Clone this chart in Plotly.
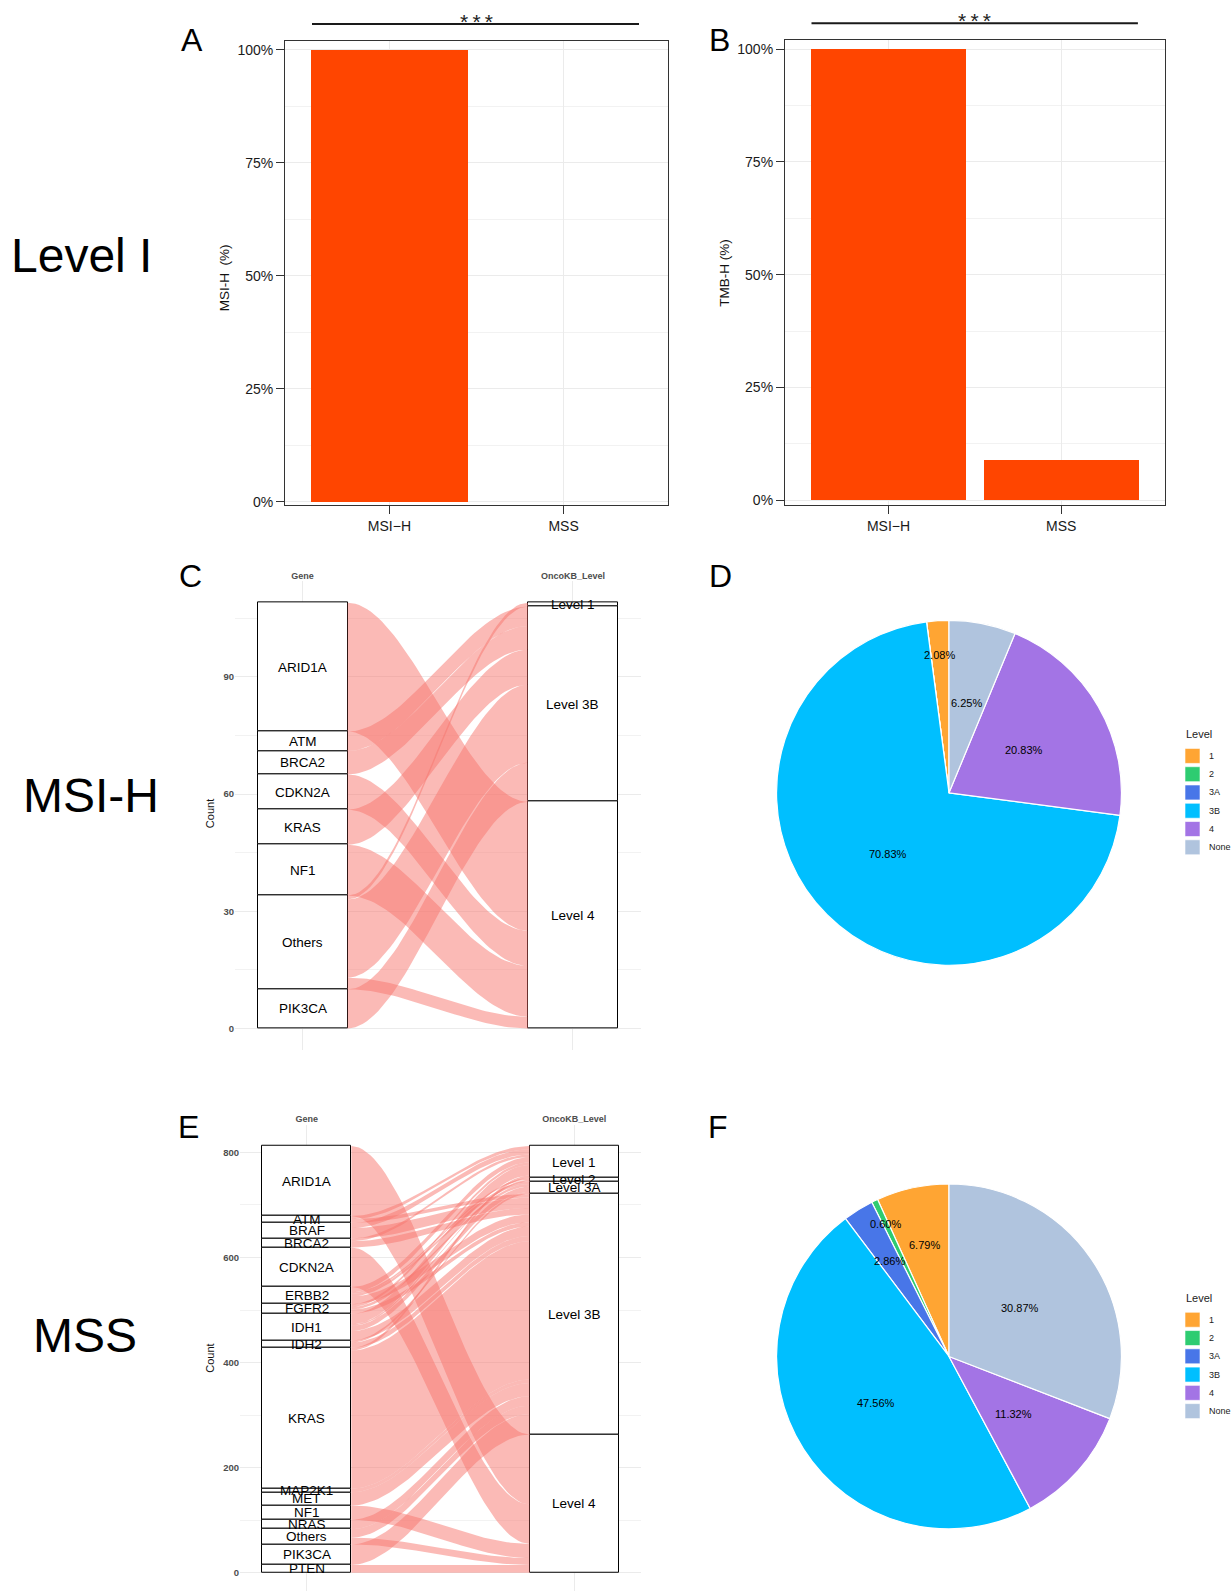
import math
import plotly.graph_objects as go

W, H = 1231, 1596
FONT = "Liberation Sans, Arial, Helvetica, sans-serif"

# ---------------- data ----------------
groups = ["MSI\u2212H", "MSS"]
msi_h_pct = [100.0, 0.0]
tmb_h_pct = [100.0, 8.75]
pct_ticks = [0, 25, 50, 75, 100]

# Panel C (MSI-H) alluvial: gene -> OncoKB level
c_genes = ["ARID1A", "ATM", "BRCA2", "CDKN2A", "KRAS", "NF1", "Others", "PIK3CA"]
c_levels = ["Level 1", "Level 3B", "Level 4"]
c_flow_gene = ["ARID1A", "ATM", "BRCA2", "CDKN2A", "KRAS", "NF1",
               "Others", "Others", "Others", "PIK3CA"]
c_flow_level = ["Level 4", "Level 3B", "Level 3B", "Level 4", "Level 3B", "Level 4",
                "Level 1", "Level 3B", "Level 4", "Level 3B"]
c_flow_count = [33, 5, 6, 9, 9, 13, 1, 20, 3, 10]
c_ticks = [0, 30, 60, 90]

# Panel E (MSS) alluvial
e_genes = ["ARID1A", "ATM", "BRAF", "BRCA2", "CDKN2A", "ERBB2", "FGFR2", "IDH1", "IDH2",
           "KRAS", "MAP2K1", "MET", "NF1", "NRAS", "Others", "PIK3CA", "PTEN"]
e_levels = ["Level 1", "Level 2", "Level 3A", "Level 3B", "Level 4"]
e_flow_gene = ["ARID1A",
               "ATM", "ATM",
               "BRAF", "BRAF",
               "BRCA2", "BRCA2",
               "CDKN2A",
               "ERBB2", "ERBB2", "ERBB2", "ERBB2",
               "FGFR2", "FGFR2", "FGFR2",
               "IDH1", "IDH1", "IDH1", "IDH1",
               "IDH2", "IDH2",
               "KRAS", "KRAS",
               "MAP2K1", "MET", "NF1", "NRAS",
               "Others", "Others",
               "PIK3CA", "PTEN"]
e_flow_level = ["Level 4",
                "Level 1", "Level 3B",
                "Level 1", "Level 3B",
                "Level 1", "Level 3B",
                "Level 4",
                "Level 1", "Level 2", "Level 3A", "Level 3B",
                "Level 1", "Level 3A", "Level 3B",
                "Level 1", "Level 2", "Level 3A", "Level 3B",
                "Level 3A", "Level 3B",
                "Level 1", "Level 3B",
                "Level 3B", "Level 3B", "Level 4", "Level 3B",
                "Level 3B", "Level 4",
                "Level 3B", "Level 4"]
e_flow_count = [133,
                6, 7,
                10, 20,
                5, 12,
                75,
                10, 3, 5, 15,
                5, 5, 8,
                20, 3, 10, 18,
                4, 10,
                5, 263,
                7, 25, 27, 18,
                16, 13,
                39, 15]
e_ticks = [0, 200, 400, 600, 800]

# Pies (patients by highest level)
pie_labels = ["1", "2", "3A", "3B", "4", "None"]
d_counts = [1, 0, 0, 34, 10, 3]
f_counts = [114, 10, 48, 798, 190, 518]

# ---------------- styles ----------------
BAR_COLOR = "#FF4500"
FLOW_COLOR = "rgba(248,118,109,0.5)"
PIE_COLORS = ["#FFA533", "#2ECC71", "#4876E8", "#00BFFF", "#A374E5", "#B0C4DE"]
GRID = "#EBEBEB"
MINOR = "#F2F2F2"


def fx(px):
    return px / W


def fy(py):
    return 1 - py / H


fig = go.Figure()
annotations = []
shapes = []


def note(text, x, y, size, color="#111", angle=0, xanchor="center"):
    annotations.append(dict(text=text, x=fx(x), y=fy(y), xref="paper", yref="paper", showarrow=False,
                            xanchor=xanchor, yanchor="middle", textangle=angle,
                            font=dict(size=size, color=color)))


# ---------------- Panels A & B (bars) ----------------
fig.add_trace(go.Bar(x=groups, y=msi_h_pct, width=0.9, marker=dict(color=BAR_COLOR, line=dict(width=0)),
                     xaxis="x", yaxis="y", showlegend=False, hoverinfo="skip"))
fig.add_trace(go.Bar(x=groups, y=tmb_h_pct, width=0.9, marker=dict(color=BAR_COLOR, line=dict(width=0)),
                     xaxis="x2", yaxis="y2", showlegend=False, hoverinfo="skip"))


def bar_axes(xl, xr, yt, yb, yrange, xname, yname):
    xa = dict(domain=[fx(xl), fx(xr)], anchor=yname, type="category", range=[-0.6, 1.6],
              showline=True, mirror=True, linecolor="#333333", linewidth=1,
              ticks="outside", ticklen=8, tickcolor="#333333", tickwidth=1,
              showgrid=True, gridcolor=GRID, gridwidth=1, zeroline=False,
              tickfont=dict(size=14, color="#1a1a1a"))
    ya = dict(domain=[fy(yb), fy(yt)], anchor=xname, range=yrange,
              tickvals=pct_ticks, ticktext=["%d%%" % v for v in pct_ticks],
              showline=True, mirror=True, linecolor="#333333", linewidth=1,
              ticks="outside", ticklen=8, tickcolor="#333333", tickwidth=1,
              showgrid=True, gridcolor=GRID, gridwidth=1, zeroline=False,
              minor=dict(tickvals=[12.5, 37.5, 62.5, 87.5], showgrid=True, gridcolor=MINOR, gridwidth=1, ticks=""),
              tickfont=dict(size=14, color="#1a1a1a"))
    return xa, ya


xa1, ya1 = bar_axes(285, 668, 41.3, 506.9, [-0.75, 101.9], "x", "y")
xa2, ya2 = bar_axes(784.9, 1164.8, 40.6, 506.3, [-0.99, 101.9], "x2", "y2")

# significance brackets
for (x0, x1, yl, xs, ys) in [(312, 639, 24.1, 476, 21.5), (811.5, 1137.9, 23.4, 974.7, 20.5)]:
    shapes.append(dict(type="line", xref="paper", yref="paper", x0=fx(x0), x1=fx(x1), y0=fy(yl), y1=fy(yl),
                       line=dict(color="#1a1a1a", width=2)))
    note("*\u2009*\u2009*", xs, ys, 21, "#222")

note("MSI-H\u00a0 (%)", 224, 279, 13.5, angle=-90)
note("TMB-H (%)", 724.5, 274, 13.5, angle=-90)


# ---------------- alluvial builder ----------------
def smooth(t):
    return t * t * (3 - 2 * t)


def alluvial(genes, levels, fgene, flevel, fcount, xname, yname):
    total = sum(fcount)
    gtot = {g: 0 for g in genes}
    ltot = {l: 0 for l in levels}
    for g, l, c in zip(fgene, flevel, fcount):
        gtot[g] += c
        ltot[l] += c
    gtop, cum = {}, 0
    for g in genes:
        gtop[g] = total - cum
        cum += gtot[g]
    ltop, cum = {}, 0
    for l in levels:
        ltop[l] = total - cum
        cum += ltot[l]
    idx = list(range(len(fcount)))
    left = {}
    for g in genes:
        cur = gtop[g]
        for i in sorted([i for i in idx if fgene[i] == g], key=lambda i: levels.index(flevel[i])):
            left[i] = (cur, cur - fcount[i])
            cur -= fcount[i]
    right = {}
    for l in levels:
        cur = ltop[l]
        for i in sorted([i for i in idx if flevel[i] == l], key=lambda i: genes.index(fgene[i])):
            right[i] = (cur, cur - fcount[i])
            cur -= fcount[i]
    w = 1 / 3
    x0, x1 = 1 + w / 2, 2 - w / 2
    n = 48
    for i in idx:
        (lt, lb), (rt, rb) = left[i], right[i]
        ts = [k / (n - 1) for k in range(n)]
        xs_top = [x0 + (x1 - x0) * t for t in ts]
        ys_top = [lt + (rt - lt) * smooth(t) for t in ts]
        ys_bot = [lb + (rb - lb) * smooth(t) for t in ts]
        xs = xs_top + xs_top[::-1] + [xs_top[0]]
        ys = ys_top + ys_bot[::-1] + [ys_top[0]]
        fig.add_trace(go.Scatter(x=xs, y=ys, mode="lines", fill="toself", fillcolor=FLOW_COLOR,
                                 line=dict(width=0, color="rgba(0,0,0,0)"), xaxis=xname, yaxis=yname,
                                 showlegend=False, hoverinfo="skip"))
    for xpos, names, tops, tots in [(1, genes, gtop, gtot), (2, levels, ltop, ltot)]:
        fig.add_trace(go.Bar(x=[xpos] * len(names), y=[tots[s] for s in names],
                             base=[tops[s] - tots[s] for s in names], width=w,
                             marker=dict(color="white", line=dict(color="black", width=1)),
                             xaxis=xname, yaxis=yname, showlegend=False, hoverinfo="skip"))
        for s in names:
            annotations.append(dict(text=s, x=xpos, y=tops[s] - tots[s] / 2, xref=xname, yref=yname,
                                    showarrow=False, xanchor="center", yanchor="middle",
                                    font=dict(size=13.5, color="black")))
    return total


c_total = alluvial(c_genes, c_levels, c_flow_gene, c_flow_level, c_flow_count, "x3", "y3")
e_total = alluvial(e_genes, e_levels, e_flow_gene, e_flow_level, e_flow_count, "x4", "y4")


def alluvial_axes(xl, xr, yt, yb, yrange, tickvals, xname, yname):
    step = tickvals[1] - tickvals[0]
    minorvals = [v + step / 2 for v in tickvals]
    xa = dict(domain=[fx(xl), fx(xr)], anchor=yname, range=[0.75, 2.25], tickvals=[1, 2],
              ticktext=["<b>Gene</b>", "<b>OncoKB_Level</b>"], side="top", showline=False, ticks="",
              showgrid=True, gridcolor=GRID, gridwidth=1, zeroline=False,
              tickfont=dict(size=9, color="#4D4D4D"))
    ya = dict(domain=[fy(yb), fy(yt)], anchor=xname, range=yrange, tickvals=tickvals,
              ticktext=["<b>%d</b>" % v for v in tickvals], showline=False, ticks="",
              showgrid=True, gridcolor=GRID, gridwidth=1, zeroline=False,
              minor=dict(tickvals=minorvals, showgrid=True, gridcolor=MINOR, gridwidth=1, ticks=""),
              tickfont=dict(size=9.5, color="#4D4D4D"))
    return xa, ya


# panel E pixel calibration: value 0 sits at y=1577.7 px, 0.52713 px per count
E_ZERO_PX, E_PX_PER = 1577.7, 0.52713
E_TOP_PX = 1128.3
xa3, ya3 = alluvial_axes(235, 640.5, 583.2, 1053, [-0.05 * c_total, 1.05 * c_total], c_ticks, "x3", "y3")
xa4, ya4 = alluvial_axes(240, 641, E_TOP_PX, H,
                         [(E_ZERO_PX - H) / E_PX_PER, (E_ZERO_PX - E_TOP_PX) / E_PX_PER],
                         e_ticks, "x4", "y4")

note("Count", 210, 816.7, 11, angle=-90)
note("Count", 210, 1363, 11, angle=-90)

# ---------------- Pies D & F ----------------
pies = [(d_counts, 949, 795.3, 173, 736.7, [0.8, 0.5, 0.5, 0.5, 0.5, 0.53]),
        (f_counts, 949, 1360.7, 173, 1302.3, [0.66, 0.85, 0.65, 0.5, 0.5, 0.5])]
for counts, cx, cy, r, leg_y, rf in pies:
    tot = sum(counts)
    fig.add_trace(go.Pie(labels=pie_labels, values=counts, sort=False, direction="counterclockwise",
                         rotation=-360.0 * counts[0] / tot,
                         marker=dict(colors=PIE_COLORS, line=dict(color="white", width=1.2)),
                         textinfo="none", hoverinfo="skip", showlegend=False,
                         domain=dict(x=[fx(cx - r), fx(cx + r)], y=[fy(cy + r), fy(cy - r)])))
    cum = 0
    for v, f in zip(counts, rf):
        if v > 0:
            th = math.radians((cum + v / 2) / tot * 360)
            note("%.2f%%" % (100 * v / tot), cx - f * r * math.sin(th), cy - f * r * math.cos(th), 11, "black")
        cum += v
    # legend
    note("Level", 1183.5, leg_y, 11, "#222", xanchor="left")
    for k, (lab, col) in enumerate(zip(pie_labels, PIE_COLORS)):
        yc = leg_y + 21.6 + 18.33 * k
        shapes.append(dict(type="rect", xref="paper", yref="paper", x0=fx(1185), x1=fx(1200),
                           y0=fy(yc + 7.5), y1=fy(yc - 7.5), fillcolor=col, line=dict(color="white", width=0.6)))
        note(lab, 1206.5, yc, 9, "#222", xanchor="left")

# ---------------- Row labels & panel letters ----------------
note("Level I", 81.5, 256.5, 48, "black")
note("MSI-H", 91, 798, 48, "black")
note("MSS", 85, 1340, 48, "black")
for txt, x, y in [("A", 191.5, 40), ("B", 719.4, 40), ("C", 191, 578), ("D", 720, 578),
                  ("E", 188.4, 1130.5), ("F", 718, 1130.5)]:
    note(txt, x, y, 32, "black")

fig.update_layout(
    width=W, height=H, margin=dict(l=0, r=0, t=0, b=0), autosize=False,
    paper_bgcolor="white", plot_bgcolor="white",
    font=dict(family=FONT, color="#222"),
    barmode="overlay", bargap=0,
    xaxis=xa1, yaxis=ya1, xaxis2=xa2, yaxis2=ya2,
    xaxis3=xa3, yaxis3=ya3, xaxis4=xa4, yaxis4=ya4,
    annotations=annotations, shapes=shapes, showlegend=False,
)

fig.write_html("out.html", config={"responsive": False, "displayModeBar": False},
               post_script="document.body.style.margin='0px';document.body.style.padding='0px';"
                           "document.documentElement.style.overflow='hidden';")
